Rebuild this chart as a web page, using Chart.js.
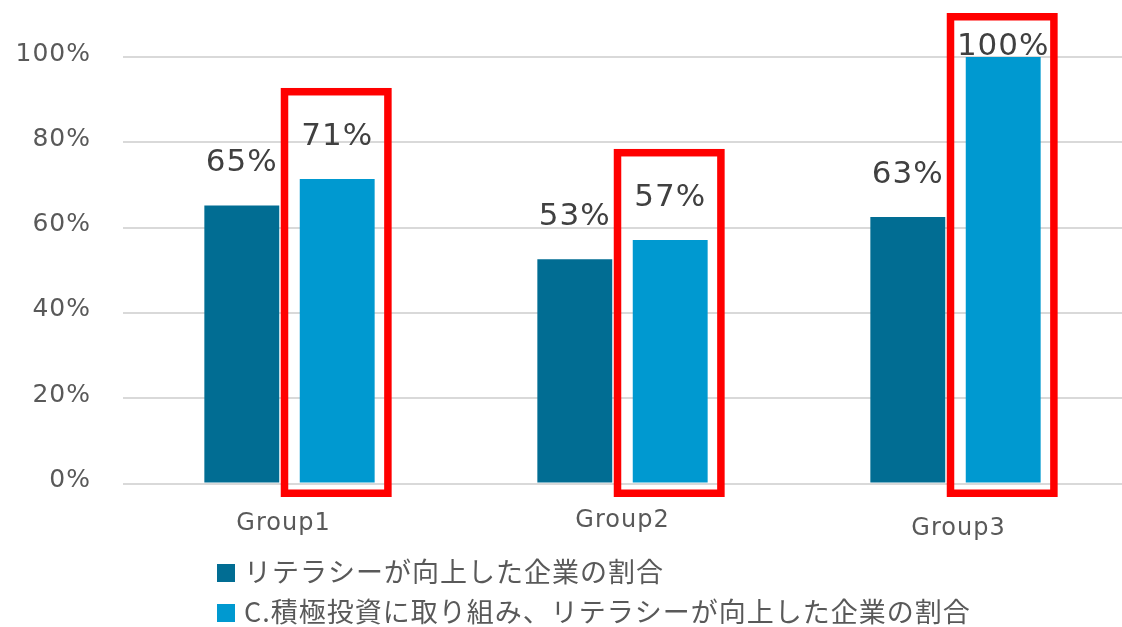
<!DOCTYPE html>
<html>
<head>
<meta charset="utf-8">
<script src="https://cdn.jsdelivr.net/npm/chart.js@4/dist/chart.umd.min.js"></script>
<style>
  html, body { margin: 0; padding: 0; background: #fff; }
  #wrap { width: 1122px; height: 627px; position: relative; }
</style>
</head>
<body>
<div id="wrap"><canvas id="c" width="1122" height="627"></canvas></div>
<script>
// ---- data ----
const categories = ['Group1', 'Group2', 'Group3'];
const seriesNames = ['リテラシーが向上した企業の割合', 'C.積極投資に取り組み、リテラシーが向上した企業の割合'];
const literacyImproved = [65.2, 52.6, 62.5];
const activeInvestment = [71.4, 57.1, 100];
const yTicks = [0, 20, 40, 60, 80, 100];
const highlightedSeries = 1; // series boxed in red

// ---- styles ----
const DARK = '#016d93';
const LIGHT = '#0099d0';
const TXT = '#595959';
const LABEL = '#404040';

const spacingPlugin = {
  id: 'spacing',
  beforeDraw(chart) { chart.ctx.letterSpacing = '1px'; }
};

const labelPlugin = {
  id: 'annot',
  afterDatasetsDraw(chart) {
    const ctx = chart.ctx;
    const area = chart.chartArea;
    ctx.save();
    ctx.letterSpacing = '1px';
    // red rectangles around highlighted series
    const hm = chart.getDatasetMeta(highlightedSeries);
    hm.data.forEach(bar => {
      const half = bar.width / 2;
      const lw = 7.5;
      const left = bar.x - half - 19;
      const right = bar.x + half + 17;
      const top = Math.max(bar.y - 91, area.top - 44);
      const bottom = area.bottom + 13.5;
      ctx.strokeStyle = '#ff0000';
      ctx.lineWidth = lw;
      ctx.strokeRect(left + lw / 2, top + lw / 2, right - left - lw, bottom - top - lw);
    });
    // value labels
    ctx.font = '31px "DejaVu Sans"';
    ctx.fillStyle = LABEL;
    ctx.textAlign = 'center';
    ctx.textBaseline = 'alphabetic';
    chart.data.datasets.forEach((ds, di) => {
      const meta = chart.getDatasetMeta(di);
      meta.data.forEach((bar, i) => {
        const y = Math.max(bar.y - 34, area.top - 2);
        ctx.fillText(Math.round(ds.data[i]) + '%', bar.x, y);
      });
    });
    // category labels (slightly staggered as in the original)
    const dx = [-6, 0, 3];
    const dy = [0, -3, 5];
    const xs = chart.scales.x;
    ctx.font = '24px "DejaVu Sans"';
    ctx.fillStyle = TXT;
    ctx.textBaseline = 'middle';
    categories.forEach((c, i) => {
      ctx.fillText(c, xs.getPixelForTick(i) + dx[i], area.bottom + 40 + dy[i]);
    });
    // legend
    ctx.textAlign = 'left';
    ctx.font = '27px "Noto Sans CJK JP"';
    const colors = [DARK, LIGHT];
    seriesNames.forEach((n, i) => {
      const cy = 573 + i * 40;
      ctx.fillStyle = colors[i];
      ctx.fillRect(217, cy - 9, 18, 18);
      ctx.fillStyle = TXT;
      ctx.fillText(n, 244, cy - 1);
    });
    ctx.restore();
  }
};

new Chart(document.getElementById('c'), {
  type: 'bar',
  data: {
    labels: categories,
    datasets: [
      { label: seriesNames[0], data: literacyImproved, backgroundColor: DARK },
      { label: seriesNames[1], data: activeInvestment, backgroundColor: LIGHT }
    ]
  },
  options: {
    responsive: false,
    animation: false,
    devicePixelRatio: 1,
    layout: { padding: { top: 57, right: 0, bottom: 0, left: 0 } },
    categoryPercentage: 0.573,
    barPercentage: 0.785,
    plugins: { legend: { display: false }, tooltip: { enabled: false } },
    scales: {
      x: {
        grid: { display: false, drawTicks: false },
        border: { display: false },
        ticks: { display: false },
        afterFit(s) { s.height = 143.5; }
      },
      y: {
        min: 0, max: 100,
        afterBuildTicks(s) { s.ticks = yTicks.map(v => ({ value: v })); },
        grid: { color: '#d9d9d9', lineWidth: 2, drawTicks: false },
        border: { display: false },
        ticks: {
          color: TXT,
          font: { family: 'DejaVu Sans', size: 25 },
          padding: 32,
          labelOffset: -3,
          callback: v => v + '%'
        },
        afterFit(s) { s.width = 123; }
      }
    }
  },
  plugins: [spacingPlugin, labelPlugin]
});
</script>
</body>
</html>
